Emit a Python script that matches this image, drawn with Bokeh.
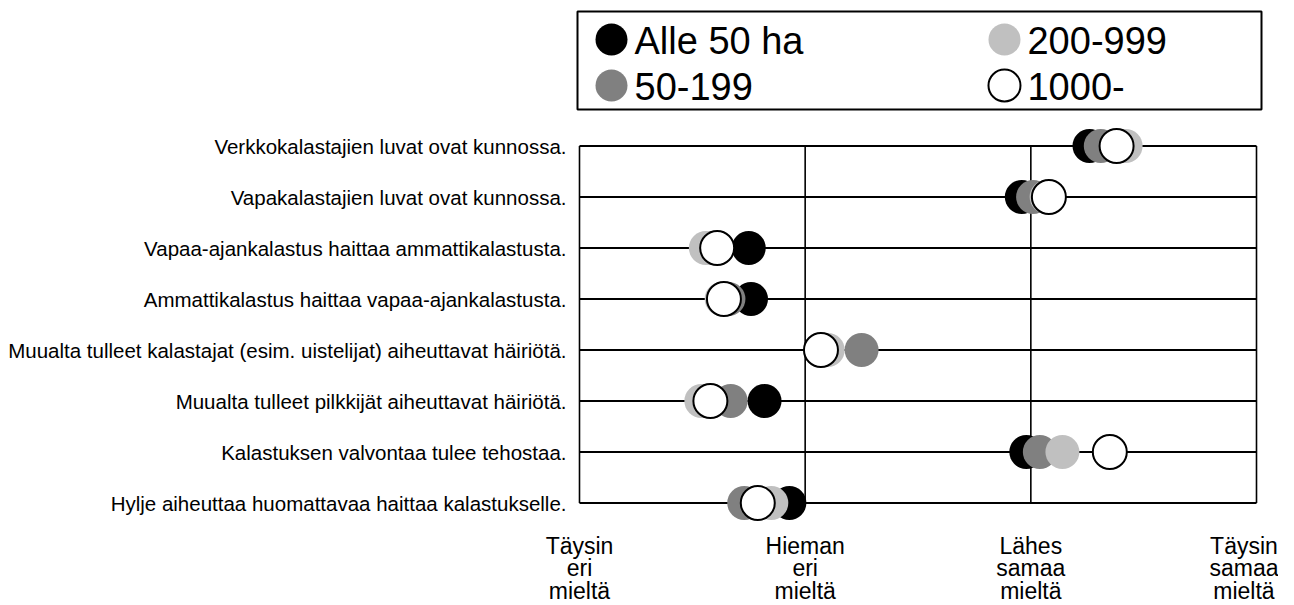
from bokeh.plotting import figure
from bokeh.models import Range1d, FactorRange, FixedTicker, ColumnDataSource
from bokeh.layouts import column
from bokeh.core.properties import value
from bokeh.embed import file_html
from bokeh.resources import INLINE

# ---------------- data ----------------
categories = [
    "Verkkokalastajien luvat ovat kunnossa.",
    "Vapakalastajien luvat ovat kunnossa.",
    "Vapaa-ajankalastus haittaa ammattikalastusta.",
    "Ammattikalastus haittaa vapaa-ajankalastusta.",
    "Muualta tulleet kalastajat (esim. uistelijat) aiheuttavat häiriötä.",
    "Muualta tulleet pilkkijät aiheuttavat häiriötä.",
    "Kalastuksen valvontaa tulee tehostaa.",
    "Hylje aiheuttaa huomattavaa haittaa kalastukselle.",
]
series_names = ["Alle 50 ha", "50-199", "200-999", "1000-"]
alle_50 = [3.26, 2.96, 1.75, 1.76, 2.08, 1.82, 2.98, 1.93]
ha_50_199 = [3.31, 3.01, 1.59, 1.66, 2.25, 1.67, 3.04, 1.73]
ha_200_999 = [3.42, 3.07, 1.56, 1.63, 2.10, 1.54, 3.14, 1.85]
ha_1000 = [3.38, 3.08, 1.61, 1.64, 2.07, 1.58, 3.35, 1.79]
scale_values = [1, 2, 3, 4]
scale_labels = ["Täysin\neri\nmieltä", "Hieman\neri\nmieltä", "Lähes\nsamaa\nmieltä", "Täysin\nsamaa\nmieltä"]

series_values = [alle_50, ha_50_199, ha_200_999, ha_1000]
fill_colors = ["#000000", "#808080", "#C0C0C0", "#FFFFFF"]
line_colors = ["#000000", "#808080", "#C0C0C0", "#000000"]
line_widths = [0, 0, 0, 2]

FONT = value("Liberation Sans")

# ---------------- legend figure ----------------
leg = figure(frame_width=684, frame_height=98,
             min_border_left=577, min_border_right=17,
             min_border_top=11, min_border_bottom=2,
             x_range=Range1d(-0.0865, 1.654), y_range=Range1d(1.522, -0.609),
             x_axis_location=None, y_axis_location=None,
             toolbar_location=None, output_backend="svg")
leg.grid.visible = False
leg.outline_line_color = "black"
leg.outline_line_width = 2
leg_src = ColumnDataSource(dict(
    col=[i // 2 for i in range(len(series_names))],
    row=[i % 2 for i in range(len(series_names))],
    name=series_names,
    fill=fill_colors,
    line=line_colors,
    lw=line_widths,
))
leg.scatter(x="col", y="row", source=leg_src, size=32, fill_color="fill",
            line_color="line", line_width="lw")
leg.text(x="col", y="row", text="name", source=leg_src, x_offset=23, y_offset=1,
         text_align="left", text_baseline="middle", text_font=FONT,
         text_font_size="38px", text_color="black")

# ---------------- main figure ----------------
px_per_unit = 225.67
p = figure(frame_width=684, frame_height=408,
           min_border_left=577, min_border_right=17,
           min_border_top=9, min_border_bottom=70,
           x_range=Range1d(1 - 2 / px_per_unit, 4 + 5 / px_per_unit),
           y_range=FactorRange(factors=categories[::-1]),
           toolbar_location=None, output_backend="svg")
p.grid.visible = False
p.outline_line_color = None

# box / grid lines
p.segment(x0=[scale_values[0]] * len(categories), x1=[scale_values[-1]] * len(categories),
          y0=categories, y1=categories, line_color="black", line_width=2)
p.segment(x0=scale_values, x1=scale_values,
          y0=[categories[0]] * len(scale_values), y1=[categories[-1]] * len(scale_values),
          line_color="black", line_width=1.6)

for vals, fc, lc, lw in zip(series_values, fill_colors, line_colors, line_widths):
    p.scatter(x=vals, y=categories, size=34, fill_color=fc, line_color=lc, line_width=lw)

# axes
p.xaxis.ticker = FixedTicker(ticks=scale_values)
p.xaxis.major_label_overrides = {v: l for v, l in zip(scale_values, scale_labels)}
p.xaxis.axis_line_color = None
p.xaxis.major_tick_line_color = None
p.xaxis.minor_tick_line_color = None
p.xaxis.major_tick_out = 0
p.xaxis.major_label_standoff = 4
p.xaxis.major_label_text_font = "Liberation Sans"
p.xaxis.major_label_text_font_size = "23px"
p.xaxis.major_label_text_line_height = 0.88
p.xaxis.major_label_text_color = "black"

p.yaxis.axis_line_color = None
p.yaxis.major_tick_line_color = None
p.yaxis.minor_tick_line_color = None
p.yaxis.major_tick_out = 0
p.yaxis.major_label_standoff = 11
p.yaxis.major_label_text_font = "Liberation Sans"
p.yaxis.major_label_text_font_size = "20.5px"
p.yaxis.major_label_text_color = "black"

layout = column(leg, p)
open("out.html", "w").write(file_html(layout, INLINE))
